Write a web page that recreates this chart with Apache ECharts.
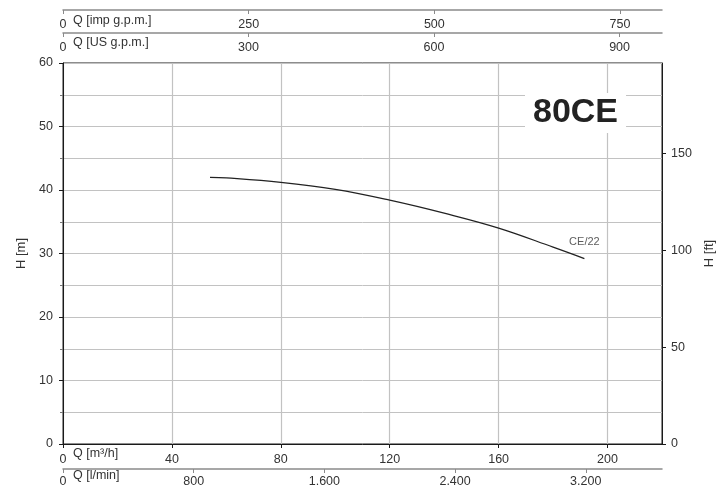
<!DOCTYPE html>
<html>
<head>
<meta charset="utf-8">
<script src="https://cdn.jsdelivr.net/npm/echarts@6/dist/echarts.min.js"></script>
<style>html,body{margin:0;padding:0;background:#fff}#c{width:724px;height:490px}</style>
</head>
<body>
<div id="c"></div>
<script>
// Curve CE/22 : flow Q [m3/h] vs head H [m]
const curveQ = [54, 60, 80, 100, 120, 140, 160, 180, 191.5];
const curveH = [42.0, 41.9, 41.2, 40.1, 38.4, 36.35, 34.0, 31.0, 29.2];
const curveName = 'CE/22';
const modelName = '80CE';

// axis tick values
const qM3hTicks = [0, 40, 80, 120, 160, 200];
const qLminTicks = [0, 800, 1600, 2400, 3200];
const qImpTicks = [0, 250, 500, 750];
const qUsTicks = [0, 300, 600, 900];
const hFtTicks = [0, 50, 100, 150];

const qMax = 220, hMax = 60;
const M3H_TO_IMP = 1000 / 4.54609 / 60;
const M3H_TO_US = 1000 / 3.785411784 / 60;
const M3H_TO_LMIN = 1000 / 60;
const M_TO_FT = 1 / 0.3048;

const FONT = 'Liberation Sans, Arial, Helvetica, sans-serif';
const TXT = '#333';
const GRID = '#c2c2c2';
const AX = '#1a1a1a';
const SEC = '#8a8a8a';

function thousands(v) {
  if (v >= 1000) {
    const r = String(v % 1000).padStart(3, '0');
    return Math.floor(v / 1000) + '.' + r;
  }
  return String(v);
}

const chart = echarts.init(document.getElementById('c'), null, {renderer: 'canvas'});
const lab = {color: TXT, fontFamily: FONT, fontSize: 12.5};

chart.setOption({
  animation: false,
  backgroundColor: '#fff',
  title: {
    text: modelName, left: 525, top: 93, padding: [3, 8], backgroundColor: '#fff',
    textStyle: {fontFamily: FONT, fontSize: 34, fontWeight: 'bold', color: '#222', lineHeight: 34}
  },
  grid: {left: 63, right: 62, top: 63, bottom: 46, show: true, borderColor: AX, borderWidth: 1, backgroundColor: 'transparent'},
  xAxis: [
    { // m3/h
      type: 'value', position: 'bottom', min: 0, max: qMax, interval: 20,
      axisLine: {show: true, onZero: false, lineStyle: {color: AX, width: 1}},
      axisTick: {show: true, length: 4, customValues: qM3hTicks, lineStyle: {color: AX}},
      axisLabel: Object.assign({margin: 9, customValues: qM3hTicks}, lab),
      splitLine: {show: true, lineStyle: {color: GRID, width: 1.2}}
    },
    { // l/min
      type: 'value', position: 'bottom', offset: 25, min: 0, max: qMax * M3H_TO_LMIN, interval: 800,
      axisLine: {show: true, onZero: false, lineStyle: {color: SEC, width: 1.5}},
      axisTick: {show: true, length: 4, customValues: qLminTicks, lineStyle: {color: SEC}},
      axisLabel: Object.assign({margin: 6, customValues: qLminTicks, formatter: v => thousands(v)}, lab),
      splitLine: {show: false}
    },
    { // imp gpm
      type: 'value', position: 'top', offset: 53, min: 0, max: qMax * M3H_TO_IMP, interval: 250,
      axisLine: {show: true, onZero: false, lineStyle: {color: SEC, width: 1.5}},
      axisTick: {show: true, inside: true, length: 4, customValues: qImpTicks, lineStyle: {color: SEC}},
      axisLabel: Object.assign({inside: true, margin: 8, customValues: qImpTicks}, lab),
      splitLine: {show: false}
    },
    { // US gpm
      type: 'value', position: 'top', offset: 30, min: 0, max: qMax * M3H_TO_US, interval: 300,
      axisLine: {show: true, onZero: false, lineStyle: {color: SEC, width: 1.5}},
      axisTick: {show: true, inside: true, length: 4, customValues: qUsTicks, lineStyle: {color: SEC}},
      axisLabel: Object.assign({inside: true, margin: 8, customValues: qUsTicks}, lab),
      splitLine: {show: false}
    }
  ],
  yAxis: [
    {
      type: 'value', position: 'left', min: 0, max: hMax, interval: 10,
      name: 'H [m]', nameLocation: 'middle', nameGap: 35, nameRotate: 90,
      nameTextStyle: {color: TXT, fontFamily: FONT, fontSize: 13},
      axisLine: {show: true, onZero: false, lineStyle: {color: AX, width: 1}},
      axisTick: {show: true, length: 4, lineStyle: {color: AX}},
      minorTick: {show: true, splitNumber: 2, length: 3, lineStyle: {color: '#777'}},
      axisLabel: Object.assign({margin: 10}, lab),
      splitLine: {show: true, lineStyle: {color: GRID, width: 1}},
      minorSplitLine: {show: true, lineStyle: {color: GRID, width: 1}}
    },
    {
      type: 'value', position: 'right', min: 0, max: hMax * M_TO_FT, interval: 50,
      name: 'H [ft]', nameLocation: 'middle', nameGap: 31, nameRotate: 90,
      nameTextStyle: {color: TXT, fontFamily: FONT, fontSize: 13},
      axisLine: {show: true, onZero: false, lineStyle: {color: AX, width: 1}},
      axisTick: {show: true, length: 4, customValues: hFtTicks, lineStyle: {color: AX}},
      axisLabel: Object.assign({margin: 9, customValues: hFtTicks}, lab),
      splitLine: {show: false}
    }
  ],
  graphic: [
    {type: 'text', left: 73, top: 14, style: {text: 'Q [imp g.p.m.]', fill: TXT, font: '12.5px ' + FONT}},
    {type: 'text', left: 73, top: 36, style: {text: 'Q [US g.p.m.]', fill: TXT, font: '12.5px ' + FONT}},
    {type: 'text', left: 73, top: 447, style: {text: 'Q [m³/h]', fill: TXT, font: '12.5px ' + FONT}},
    {type: 'text', left: 73, top: 469, style: {text: 'Q [l/min]', fill: TXT, font: '12.5px ' + FONT}}
  ],
  series: [
    {
      type: 'line', xAxisIndex: 0, yAxisIndex: 0, name: curveName,
      data: curveQ.map((q, i) => [q, curveH[i]]),
      smooth: 0.4, showSymbol: false, symbol: 'none',
      lineStyle: {color: '#222', width: 1.3}
    },
    {
      type: 'scatter', xAxisIndex: 0, yAxisIndex: 0, symbolSize: 0,
      data: [[curveQ[curveQ.length - 1], curveH[curveH.length - 1]]],
      label: {show: true, position: 'top', distance: 11, formatter: curveName, color: TXT, fontFamily: FONT, fontSize: 11}
    }
  ]
});
</script>
</body>
</html>
